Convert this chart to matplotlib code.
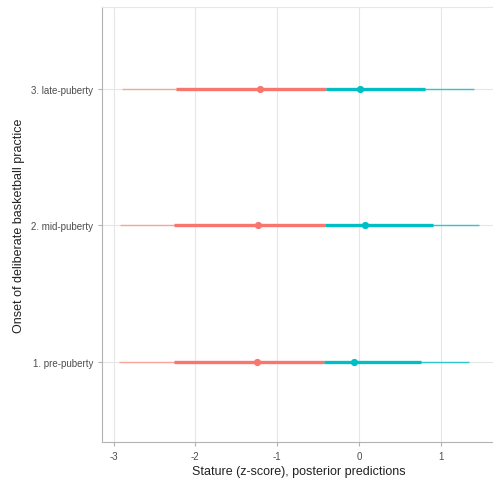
import matplotlib.pyplot as plt

plt.rcParams['font.family'] = ['Liberation Sans', 'DejaVu Sans']

# Onset groups (bottom to top)
onsets = ["1. pre-puberty", "2. mid-puberty", "3. late-puberty"]

# Lower group (red): median, 66% and 95% interval bounds
red_median = [-1.25, -1.235, -1.215]
red_lo95 = [-2.93, -2.92, -2.90]
red_lo66 = [-2.26, -2.26, -2.24]
red_hi = [-0.43, -0.42, -0.40]

# Upper group (teal): median, 66% and 95% interval bounds
teal_median = [-0.065, 0.07, 0.01]
teal_lo = [-0.43, -0.42, -0.40]
teal_hi66 = [0.755, 0.90, 0.81]
teal_hi95 = [1.34, 1.465, 1.40]

RED = '#F8766D'
TEAL = '#00BFC4'

fig = plt.figure(figsize=(4.93, 4.85), dpi=100)
ax = fig.add_axes([0.207, 0.0866, 0.80, 0.897])

ys = list(range(1, len(onsets) + 1))
for i, y in enumerate(ys):
    # thin 95% intervals
    ax.plot([red_lo95[i], red_hi[i]], [y, y], color='#f6a49c', lw=1.0,
            solid_capstyle='butt', zorder=3)
    ax.plot([teal_lo[i], teal_hi95[i]], [y, y], color='#2cc8ce', lw=1.0,
            solid_capstyle='butt', zorder=3)
    # thick 66% intervals
    ax.plot([red_lo66[i], red_hi[i]], [y, y], color=RED, lw=2.4,
            solid_capstyle='butt', zorder=4)
    ax.plot([teal_lo[i], teal_hi66[i]], [y, y], color=TEAL, lw=2.4,
            solid_capstyle='butt', zorder=4)
    # medians
    ax.plot(red_median[i], y, 'o', color=RED, ms=5.2, mew=0, zorder=5)
    ax.plot(teal_median[i], y, 'o', color=TEAL, ms=5.2, mew=0, zorder=5)

ax.set_xlim(-3.14, 1.68)
ax.set_ylim(0.41, 3.6)
ax.set_xticks([-3, -2, -1, 0, 1])
ax.set_xticklabels(['-3', '-2', '-1', '0', '1'])
ax.set_yticks(ys)
ax.set_yticklabels(onsets)

ax.grid(True, color='#e6e6e6', lw=0.8)
ax.set_axisbelow(True)
ax.set_facecolor('white')

for side in ['left', 'bottom']:
    ax.spines[side].set_color('#b3b3b3')
    ax.spines[side].set_linewidth(0.8)
ax.spines['top'].set_color('#e6e6e6')
ax.spines['top'].set_linewidth(0.8)
ax.spines['right'].set_visible(False)

ax.tick_params(axis='both', colors='#b3b3b3', length=3, width=0.8,
               labelcolor='#4d4d4d', labelsize=7)
ax.set_xlabel('Stature (z-score), posterior predictions', fontsize=9,
              color='#222222', labelpad=3)
ax.set_ylabel('Onset of deliberate basketball practice', fontsize=9,
              color='#222222', labelpad=4)

fig.savefig('out.png', dpi=100)
